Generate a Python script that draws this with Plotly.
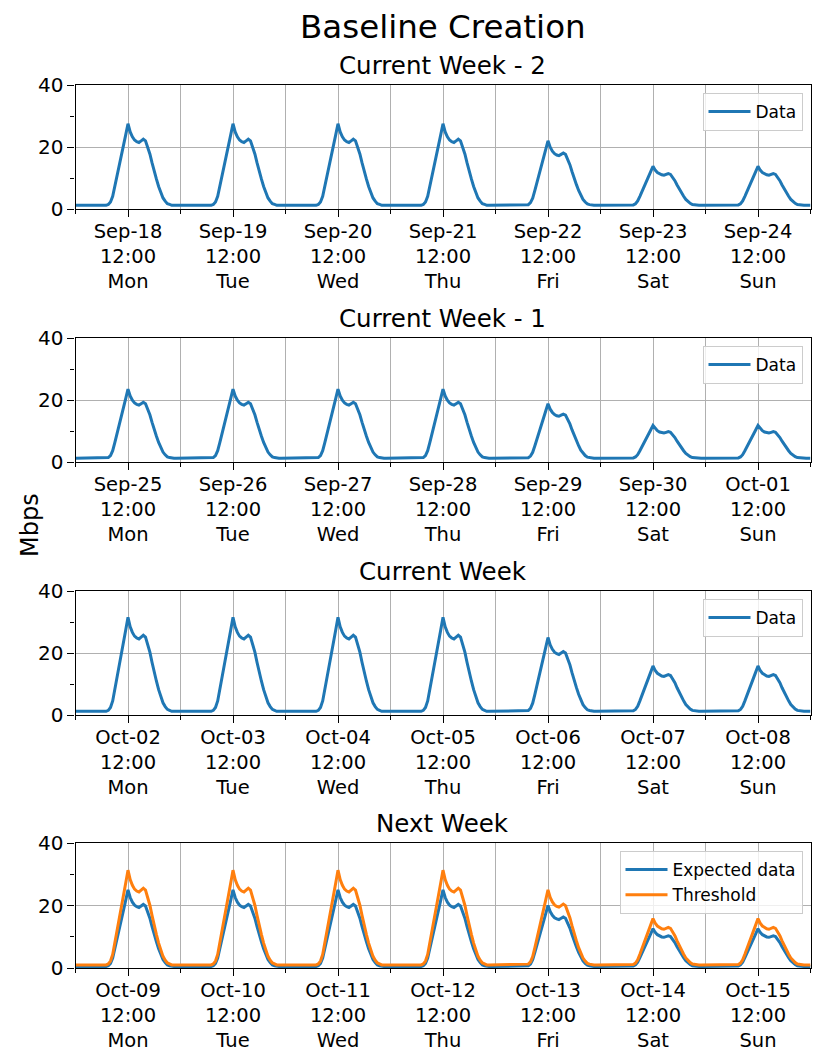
import pandas as pd
import plotly.graph_objects as go

# Half-hourly shape of one day (0 = night level, 1 = noon peak)
day_shape = [0.0, 0.0, 0.0, 0.0, 0.0, 0.0, 0.0, 0.0,
             0.0, 0.0, 0.0, 0.0, 0.0, 0.0, 0.0, 0.01,
             0.04, 0.11, 0.23, 0.35, 0.47, 0.61, 0.75, 0.87,
             1.0, 0.90, 0.84, 0.80, 0.78, 0.77, 0.79, 0.81,
             0.79, 0.72, 0.63, 0.52, 0.41, 0.32, 0.23, 0.15,
             0.09, 0.05, 0.02, 0.01, 0.0, 0.0, 0.0, 0.0]

# noon peak per day (Mon..Sun) and night level, Mbps
peaks_w2 = [27.5, 27.5, 27.5, 27.5, 22.0, 13.8, 13.8]
peaks_w1 = [23.5, 23.5, 23.5, 23.5, 18.8, 11.8, 11.8]
peaks_w0 = [31.5, 31.5, 31.5, 31.5, 25.0, 15.8, 15.8]
peaks_expected = [25.0, 25.0, 25.0, 25.0, 20.0, 12.6, 12.6]
peaks_threshold = [31.3, 31.3, 31.3, 31.3, 25.0, 15.8, 15.8]
night_data = 1.2
night_expected = 0.5
night_threshold = 1.0

week_starts = ["2017-09-18", "2017-09-25", "2017-10-02", "2017-10-09"]
panel_titles = ["Current Week - 2", "Current Week - 1", "Current Week", "Next Week"]
day_names = ["Mon", "Tue", "Wed", "Thu", "Fri", "Sat", "Sun"]

BLUE = "#1f77b4"
ORANGE = "#ff7f0e"
GRID = "#b0b0b0"
FONT = "DejaVu Sans"


def week_series(start, peaks, night):
    t = pd.date_range(start, periods=7 * 48 + 1, freq="30min")
    vals = []
    for p in peaks:
        for s in day_shape:
            vals.append(night + (p - night) * s)
    vals.append(night)
    return t, vals


# the page puts the figure 8px in from the top-left corner, so work in shifted pixels
OFF = 8
W, H = 830 - OFF, 1059 - OFF
x_px = (75.5 - OFF, 810.5 - OFF)
y_px = [(85 - OFF, 209 - OFF), (338 - OFF, 462 - OFF),
        (591 - OFF, 715 - OFF), (843 - OFF, 968 - OFF)]

fig = go.Figure()

panel_series = [
    [("Data", peaks_w2, night_data, BLUE)],
    [("Data", peaks_w1, night_data, BLUE)],
    [("Data", peaks_w0, night_data, BLUE)],
    [("Expected data", peaks_expected, night_expected, BLUE),
     ("Threshold", peaks_threshold, night_threshold, ORANGE)],
]

annotations = []
for i, start in enumerate(week_starts):
    n = "" if i == 0 else str(i + 1)
    for name, peaks, night, color in panel_series[i]:
        t, v = week_series(start, peaks, night)
        fig.add_trace(go.Scatter(x=t, y=v, mode="lines", name=name,
                                 line=dict(color=color, width=3),
                                 xaxis="x" + n, yaxis="y" + n,
                                 legend="legend" + n, showlegend=True))

    s = pd.Timestamp(start)
    noons = [s + pd.Timedelta(hours=12 + 24 * d) for d in range(7)]
    mids = [s + pd.Timedelta(days=d) for d in range(8)]
    labels = [f"{d.strftime('%b-%d')}<br>12:00<br>{day_names[k]}" for k, d in enumerate(noons)]
    top, bot = y_px[i]
    ydom = [1 - bot / H, 1 - top / H]

    fig.update_layout(**{
        "xaxis" + n: dict(
            domain=[x_px[0] / W, x_px[1] / W], anchor="y" + n, type="date",
            range=[s, s + pd.Timedelta(days=7)],
            tickmode="array", tickvals=noons, ticktext=labels,
            ticks="outside", ticklen=7, tickwidth=1, tickcolor="black",
            ticklabelstandoff=-3,
            showgrid=True, gridcolor=GRID, gridwidth=1,
            minor=dict(tickmode="array", tickvals=mids, ticks="outside", ticklen=4,
                       tickcolor="black", showgrid=True, gridcolor=GRID, gridwidth=1),
            showline=True, linecolor="black", linewidth=1.2, mirror=True,
            tickfont=dict(size=19.5, color="black"), automargin=False,
        ),
        "yaxis" + n: dict(
            domain=ydom, anchor="x" + n, range=[0, 40],
            tickmode="array", tickvals=[0, 20, 40],
            ticks="outside", ticklen=7, tickwidth=1, tickcolor="black",
            showgrid=True, gridcolor=GRID, gridwidth=1, zeroline=False,
            minor=dict(tickmode="array", tickvals=[10, 30], ticks="outside", ticklen=4,
                       tickcolor="black", showgrid=False),
            showline=True, linecolor="black", linewidth=1.2, mirror=True,
            tickfont=dict(size=20, color="black"), automargin=False,
        ),
        "legend" + n: dict(
            x=(x_px[1] - 8) / W, y=ydom[1] - 8 / H,
            xanchor="right", yanchor="top", itemwidth=42,
            bgcolor="rgba(255,255,255,0.8)", bordercolor="#cccccc", borderwidth=1,
            font=dict(size=17, color="black"), tracegroupgap=0,
        ),
    })

    annotations.append(dict(text=panel_titles[i], x=(x_px[0] + x_px[1]) / 2 / W,
                            y=ydom[1], xref="paper", yref="paper",
                            xanchor="center", yanchor="bottom", yshift=3,
                            showarrow=False, font=dict(size=24.5, color="black")))

annotations.append(dict(text="Baseline Creation", x=(x_px[0] + x_px[1]) / 2 / W,
                        y=1 - (27 - OFF) / H, xref="paper", yref="paper",
                        xanchor="center", yanchor="middle", showarrow=False,
                        font=dict(size=32.5, color="black")))
annotations.append(dict(text="Mbps", x=(30 - OFF) / W, y=1 - (525 - OFF) / H,
                        xref="paper", yref="paper",
                        xanchor="center", yanchor="middle", textangle=-90,
                        showarrow=False, font=dict(size=24, color="black")))

fig.update_layout(width=W, height=H, margin=dict(l=0, r=0, t=0, b=0),
                  plot_bgcolor="white", paper_bgcolor="white",
                  font=dict(family=FONT, color="black"),
                  annotations=annotations)

fig.write_html("out.html")
